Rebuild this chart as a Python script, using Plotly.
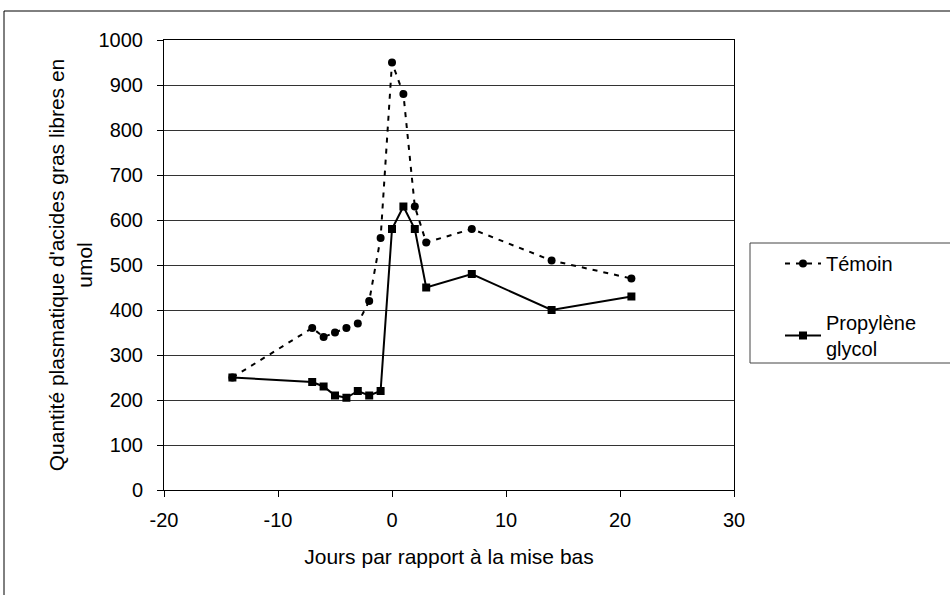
import plotly.graph_objects as go

jours_temoin = [-14, -7, -6, -5, -4, -3, -2, -1, 0, 1, 2, 3, 7, 14, 21]
temoin = [250, 360, 340, 350, 360, 370, 420, 560, 950, 880, 630, 550, 580, 510, 470]
jours_pg = [-14, -7, -6, -5, -4, -3, -2, -1, 0, 1, 2, 3, 7, 14, 21]
propylene = [250, 240, 230, 210, 205, 220, 210, 220, 580, 630, 580, 450, 480, 400, 430]
x_ticks = [-20, -10, 0, 10, 20, 30]
x_ticklabels = ["-20", "-10", "0", "10", "20", "30"]
y_ticks = [0, 100, 200, 300, 400, 500, 600, 700, 800, 900, 1000]

FONT = "Liberation Sans, Arial, sans-serif"
FS = 20
FT = 21

fig = go.Figure()
fig.add_trace(go.Scatter(
    x=jours_temoin, y=temoin, mode="lines+markers", name="Témoin",
    line=dict(color="black", width=2, dash="5px,6px"),
    marker=dict(symbol="circle", size=8, color="black"),
    legendgroup="a",
))
fig.add_trace(go.Scatter(
    x=jours_pg, y=propylene, mode="lines+markers", name="Propylène<br>glycol",
    line=dict(color="black", width=2),
    marker=dict(symbol="square", size=8, color="black"),
    legendgroup="b",
))

W, H = 950, 595
L, R, T, B = 164, 216, 40, 105
pw, ph = W - L - R, H - T - B

def px(x):
    return (x - L) / pw

def py(y):
    return 1 - (y - T) / ph

fig.update_layout(
    width=W, height=H,
    margin=dict(l=L, r=R, t=T, b=B),
    paper_bgcolor="white", plot_bgcolor="white",
    font=dict(family=FONT, size=FS, color="black"),
    showlegend=True,
    legend=dict(
        x=px(780), y=py(244), xanchor="left", yanchor="top",
        borderwidth=0, bgcolor="rgba(0,0,0,0)",
        font=dict(family=FONT, size=FS, color="black"),
        traceorder="grouped", tracegroupgap=30,
        itemwidth=36,
    ),
    xaxis=dict(
        range=[-20, 30], tickvals=x_ticks, ticktext=x_ticklabels,
        showgrid=False, zeroline=False,
        showline=True, linecolor="black", linewidth=1, mirror=True,
        ticks="outside", ticklen=6, tickcolor="black",
        ticklabelstandoff=6,
        tickfont=dict(family=FONT, size=FS),
        title=dict(text="Jours par rapport à la mise bas", font=dict(family=FONT, size=FT), standoff=19),
    ),
    yaxis=dict(
        range=[0, 1000], tickvals=y_ticks,
        showgrid=True, gridcolor="#333", gridwidth=1, zeroline=False,
        showline=True, linecolor="black", linewidth=1, mirror=True,
        ticks="outside", ticklen=6, tickcolor="black",
        ticklabelstandoff=10,
        tickfont=dict(family=FONT, size=FS),
        title=dict(text="Quantité plasmatique d'acides gras libres en<br>umol", font=dict(family=FONT, size=FT), standoff=0),
    ),
    shapes=[
        dict(type="rect", xref="paper", yref="paper",
             x0=px(4), x1=px(990), y0=py(640), y1=py(11),
             line=dict(color="black", width=1), fillcolor="rgba(0,0,0,0)", layer="below"),
        dict(type="rect", xref="paper", yref="paper",
             x0=px(750), x1=px(990), y0=py(363), y1=py(243),
             line=dict(color="#444", width=1), fillcolor="white", layer="below"),
    ],
)

fig.write_html("out.html", config={"displayModeBar": False},
               post_script="document.body.style.margin='0';")
